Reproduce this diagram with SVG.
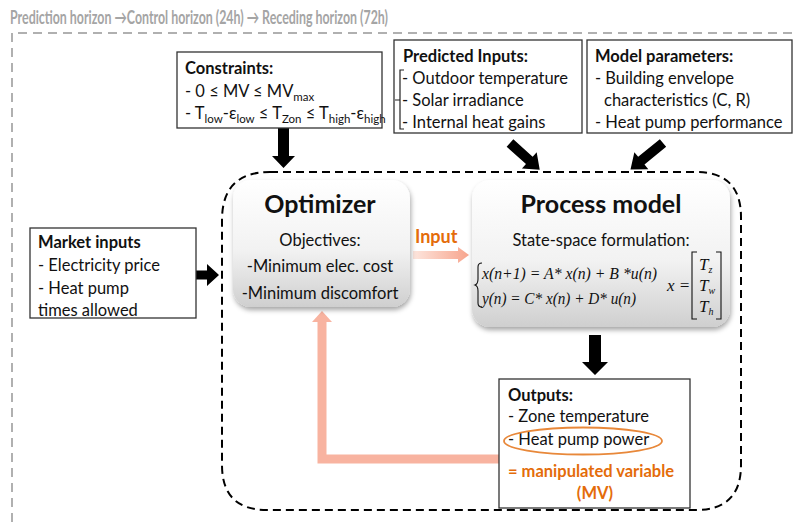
<svg xmlns="http://www.w3.org/2000/svg" width="796" height="525" viewBox="0 0 796 525">
<defs>
<style>
.t{font-family:Lato,"Liberation Sans",sans-serif;font-size:16.5px;fill:#111}
.b{font-weight:bold}
.box{fill:#fff;stroke:#333;stroke-width:1.3}
.m{font-family:"Liberation Serif",serif;font-style:italic;font-size:17px;fill:#111}
.or{fill:#E46C0A}
.blk{fill:#000}
</style>
<linearGradient id="gbox" x1="0" y1="0" x2="0" y2="1">
<stop offset="0" stop-color="#ffffff"/><stop offset="0.55" stop-color="#f2f2f2"/><stop offset="1" stop-color="#cfcfcf"/>
</linearGradient>
<linearGradient id="gin" x1="0" y1="0" x2="1" y2="0">
<stop offset="0" stop-color="#fde6de"/><stop offset="1" stop-color="#f7a48c"/>
</linearGradient>
<filter id="sh" x="-10%" y="-10%" width="120%" height="125%">
<feDropShadow dx="1" dy="3" stdDeviation="2.5" flood-color="#000" flood-opacity="0.35"/>
</filter>
</defs>

<text class="t b" x="10" y="24" style="fill:#a5a5a5;font-size:19px" textLength="378" lengthAdjust="spacingAndGlyphs">Prediction horizon →Control horizon (24h) → Receding horizon (72h)</text>
<path d="M12,522 V33 H800" fill="none" stroke="#b0b0b0" stroke-width="2" stroke-dasharray="9,6"/>

<g id="mpc-loop">
<path d="M270,172 H696 Q741,172 741,217 V465 Q741,510 696,510 H267 Q222,510 222,465 V220 Q222,172 270,172 Z" fill="none" stroke="#000" stroke-width="2" stroke-dasharray="8,5"/>
</g>

<g id="connectors">
<polygon class="blk" points="278,128 289,128 289,156 295,156 283.5,168 272,156 278,156"/>
<polygon class="blk" points="196,270.5 207,270.5 207,264 219,275 207,286 207,279.5 196,279.5"/>
<polygon class="blk" points="589,335 601,335 601,362 608,362 595,375 582,362 589,362"/>
<g transform="translate(510,143) rotate(42)"><polygon class="blk" points="0,-5 26,-5 26,-11 40,0 26,11 26,5 0,5"/></g>
<g transform="translate(663,143) rotate(140.7)"><polygon class="blk" points="0,-5 28,-5 28,-11 42,0 28,11 28,5 0,5"/></g>
<polygon fill="url(#gin)" points="413,251 458,251 458,247 469,255 458,263 458,259 413,259"/>
<path d="M500,459 H322 V320" fill="none" stroke="#f8b3a0" stroke-width="9"/>
<polygon fill="#f8b3a0" points="312,322 332,322 322,311"/>
</g>

<g id="constraints">
<rect class="box" x="177" y="52" width="205" height="76"/>
<text class="t b" x="185" y="74">Constraints:</text>
<text class="t" x="185" y="97">- 0 ≤ MV ≤ MV<tspan font-size="11.5" dy="4">max</tspan></text>
<text class="t" x="185" y="119">- T<tspan font-size="11.5" dy="4">low</tspan><tspan dy="-4">-ε</tspan><tspan font-size="11.5" dy="4">low</tspan><tspan dy="-4"> ≤ T</tspan><tspan font-size="11.5" dy="4">Zon</tspan><tspan dy="-4"> ≤ T</tspan><tspan font-size="11.5" dy="4">high</tspan><tspan dy="-4">-ε</tspan><tspan font-size="11.5" dy="4">high</tspan></text>
</g>

<g id="predicted-inputs">
<rect class="box" x="394" y="40" width="188" height="93"/>
<text class="t b" x="403" y="62">Predicted Inputs:</text>
<path d="M404,70 H400 V129 H404 M400,100 H395" fill="none" stroke="#222" stroke-width="1.2"/>
<text class="t" x="402" y="84">- Outdoor temperature</text>
<text class="t" x="402" y="106">- Solar irradiance</text>
<text class="t" x="402" y="128">- Internal heat gains</text>
</g>

<g id="model-parameters">
<rect class="box" x="587" y="40" width="205" height="93"/>
<text class="t b" x="595" y="62">Model parameters:</text>
<text class="t" x="595" y="84">- Building envelope</text>
<text class="t" x="604" y="106">characteristics (C, R)</text>
<text class="t" x="595" y="128">- Heat pump performance</text>
</g>

<g id="market-inputs">
<rect class="box" x="30" y="228" width="166" height="90"/>
<text class="t b" x="38" y="248">Market inputs</text>
<text class="t" x="38" y="271">- Electricity price</text>
<text class="t" x="38" y="294">- Heat pump</text>
<text class="t" x="38" y="316">times allowed</text>
</g>

<g id="optimizer">
<rect x="233" y="180" width="177" height="127" rx="18" fill="url(#gbox)" filter="url(#sh)"/>
<text class="t b" x="320" y="213" text-anchor="middle" style="font-size:25px">Optimizer</text>
<text class="t" x="320" y="246" text-anchor="middle">Objectives:</text>
<text class="t" x="320" y="272" text-anchor="middle">-Minimum elec. cost</text>
<text class="t" x="320" y="299" text-anchor="middle">-Minimum discomfort</text>
</g>

<text class="t b or" x="415" y="243" style="font-size:18px;fill:#E46C0A">Input</text>

<g id="process-model">
<rect x="472" y="180" width="258" height="147" rx="18" fill="url(#gbox)" filter="url(#sh)"/>
<text class="t b" x="601" y="213" text-anchor="middle" style="font-size:25px">Process model</text>
<text class="t" x="601" y="246" text-anchor="middle">State-space formulation:</text>
<path d="M482,263 Q478,263 478,267 V279 Q478,284 475,285 Q478,286 478,291 V303 Q478,307 482,307" fill="none" stroke="#111" stroke-width="1.1"/>
<text class="m" x="482" y="279" textLength="175" lengthAdjust="spacingAndGlyphs">x(n+1) = A* x(n) + B *u(n)</text>
<text class="m" x="482" y="304" textLength="154" lengthAdjust="spacingAndGlyphs">y(n) = C* x(n) + D* u(n)</text>
<text class="m" x="667" y="291">x =</text>
<path d="M697,252 H692 V319 H697 M716,252 H721 V319 H716" fill="none" stroke="#111" stroke-width="1.1"/>
<text class="m" x="699" y="270">T<tspan font-size="10" dy="3">z</tspan></text>
<text class="m" x="699" y="291">T<tspan font-size="10" dy="3">w</tspan></text>
<text class="m" x="699" y="312">T<tspan font-size="10" dy="3">h</tspan></text>
</g>

<g id="outputs">
<rect class="box" x="499" y="379" width="191" height="129"/>
<text class="t b" x="508" y="401">Outputs:</text>
<text class="t" x="508" y="422">- Zone temperature</text>
<text class="t" x="508" y="445">- Heat pump power</text>
<ellipse cx="583" cy="441" rx="79" ry="13.5" fill="none" stroke="#E8883A" stroke-width="1.8"/>
<text class="t b" x="508" y="477" style="fill:#E46C0A">= manipulated variable</text>
<text class="t b" x="595" y="499" text-anchor="middle" style="fill:#E46C0A">(MV)</text>
</g>
</svg>
